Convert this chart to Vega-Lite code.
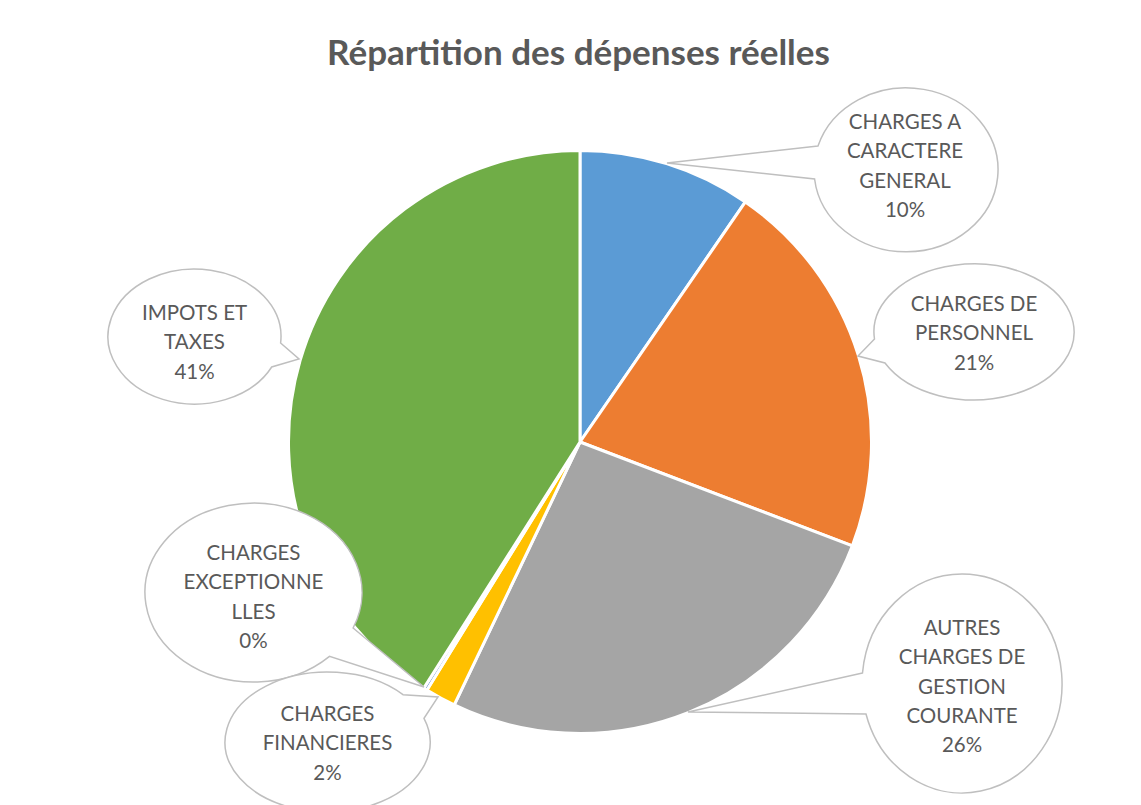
{
  "$schema": "https://vega.github.io/schema/vega-lite/v6.json",
  "width": 1141,
  "height": 705,
  "autosize": {"type": "none"},
  "padding": {"top": 100, "left": 0, "right": 0, "bottom": 0},
  "background": "white",
  "title": {
    "text": "Répartition des dépenses réelles",
    "font": "Lato",
    "fontSize": 35,
    "fontWeight": "bold",
    "color": "#595959",
    "anchor": "middle",
    "baseline": "alphabetic",
    "offset": 40,
    "dx": 8,
    "dy": 55
  },
  "config": {
    "view": {"stroke": null},
    "axis": {"disable": true}
  },
  "data": {
    "values": [
      {"categorie": "CHARGES A CARACTERE GENERAL", "valeur": 9.6},
      {"categorie": "CHARGES DE PERSONNEL", "valeur": 21.2},
      {"categorie": "AUTRES CHARGES DE GESTION COURANTE", "valeur": 26.3},
      {"categorie": "CHARGES FINANCIERES", "valeur": 1.7},
      {"categorie": "CHARGES EXCEPTIONNELLES", "valeur": 0.2},
      {"categorie": "IMPOTS ET TAXES", "valeur": 41.0}
    ]
  },
  "layer": [
    {
      "transform": [{"window": [{"op": "row_number", "as": "rang"}]}],
      "mark": {"type": "arc", "outerRadius": 291.5, "stroke": "white", "strokeWidth": 3},
      "encoding": {
        "x": {"datum": 0, "type": "quantitative", "scale": {"domain": [-2, 1.934483], "nice": false, "zero": false}},
        "y": {"datum": 0, "type": "quantitative", "scale": {"domain": [-1.251724, 1.17931], "nice": false, "zero": false}},
        "theta": {"field": "valeur", "type": "quantitative", "stack": true},
        "order": {"field": "rang", "type": "quantitative"},
        "color": {
          "field": "categorie",
          "type": "nominal",
          "scale": {
            "domain": ["CHARGES A CARACTERE GENERAL", "CHARGES DE PERSONNEL", "AUTRES CHARGES DE GESTION COURANTE", "CHARGES FINANCIERES", "CHARGES EXCEPTIONNELLES", "IMPOTS ET TAXES"],
            "range": ["#5B9BD5", "#ED7D31", "#A5A5A5", "#FFC000", "#4472C4", "#70AD47"]
          },
          "legend": null
        }
      }
    },
    {
      "transform": [{"filter": "datum.categorie === 'CHARGES A CARACTERE GENERAL'"}],
      "layer": [
        {
          "mark": {"type": "point", "shape": "M-88,-24L-239,-7L-91.4,9A92,82,0,1,0,-88,-24Z", "size": 4, "filled": true, "fill": "white", "stroke": "#BFBFBF", "strokeWidth": 1.5, "opacity": 1},
          "encoding": {"x": {"datum": 1.1241}, "y": {"datum": 0.9379}}
        },
        {
          "transform": [{"calculate": "['CHARGES A', 'CARACTERE', 'GENERAL', format(datum.valeur / 100, '.0%')]", "as": "lignes"}],
          "mark": {"type": "text", "font": "Lato", "fontSize": 20.5, "color": "#595959", "lineHeight": 29.3, "align": "center", "baseline": "middle"},
          "encoding": {"x": {"datum": 1.1207}, "y": {"datum": 1.1}, "text": {"field": "lignes"}}
        }
      ]
    },
    {
      "transform": [{"filter": "datum.categorie === 'CHARGES DE PERSONNEL'"}],
      "layer": [
        {
          "mark": {"type": "point", "shape": "M-99.5,7L-116,24L-89,31A100,68,0,1,0,-99.5,7Z", "size": 4, "filled": true, "fill": "white", "stroke": "#BFBFBF", "strokeWidth": 1.5, "opacity": 1},
          "encoding": {"x": {"datum": 1.3586}, "y": {"datum": 0.3793}}
        },
        {
          "transform": [{"calculate": "['CHARGES DE', 'PERSONNEL', format(datum.valeur / 100, '.0%')]", "as": "lignes"}],
          "mark": {"type": "text", "font": "Lato", "fontSize": 20.5, "color": "#595959", "lineHeight": 29.3, "align": "center", "baseline": "middle"},
          "encoding": {"x": {"datum": 1.3586}, "y": {"datum": 0.4724}, "text": {"field": "lignes"}}
        }
      ]
    },
    {
      "transform": [{"filter": "datum.categorie === 'AUTRES CHARGES DE GESTION COURANTE'"}],
      "layer": [
        {
          "mark": {"type": "point", "shape": "M-99.5,-10.5L-274,28.5L-96,30.5A100,109.5,0,1,0,-99.5,-10.5Z", "size": 4, "filled": true, "fill": "white", "stroke": "#BFBFBF", "strokeWidth": 1.5, "opacity": 1},
          "encoding": {"x": {"datum": 1.3172}, "y": {"datum": -0.8328}}
        },
        {
          "transform": [{"calculate": "['AUTRES', 'CHARGES DE', 'GESTION', 'COURANTE', format(datum.valeur / 100, '.0%')]", "as": "lignes"}],
          "mark": {"type": "text", "font": "Lato", "fontSize": 20.5, "color": "#595959", "lineHeight": 29.3, "align": "center", "baseline": "middle"},
          "encoding": {"x": {"datum": 1.3172}, "y": {"datum": -0.6448}, "text": {"field": "lignes"}}
        }
      ]
    },
    {
      "transform": [{"filter": "datum.categorie === 'CHARGES EXCEPTIONNELLES'"}],
      "layer": [
        {
          "mark": {"type": "point", "shape": "M99.6,35.5L170.5,94.5L76,63.9A108.5,89.5,0,1,1,99.6,35.5Z", "size": 4, "filled": true, "fill": "white", "stroke": "#BFBFBF", "strokeWidth": 1.5, "opacity": 1},
          "encoding": {"x": {"datum": -1.1259}, "y": {"datum": -0.519}}
        },
        {
          "transform": [{"calculate": "['CHARGES', 'EXCEPTIONNE', 'LLES', format(datum.valeur / 100, '.0%')]", "as": "lignes"}],
          "mark": {"type": "text", "font": "Lato", "fontSize": 20.5, "color": "#595959", "lineHeight": 29.3, "align": "center", "baseline": "middle"},
          "encoding": {"x": {"datum": -1.1259}, "y": {"datum": -0.3862}, "text": {"field": "lignes"}}
        }
      ]
    },
    {
      "transform": [{"filter": "datum.categorie === 'CHARGES FINANCIERES'"}],
      "layer": [
        {
          "mark": {"type": "point", "shape": "M75.5,-47.3L110.5,-45L96.5,-23.6A102.5,70,0,1,1,75.5,-47.3Z", "size": 4, "filled": true, "fill": "white", "stroke": "#BFBFBF", "strokeWidth": 1.5, "opacity": 1},
          "encoding": {"x": {"datum": -0.8707}, "y": {"datum": -1.0345}}
        },
        {
          "transform": [{"calculate": "['CHARGES', 'FINANCIERES', format(datum.valeur / 100, '.0%')]", "as": "lignes"}],
          "mark": {"type": "text", "font": "Lato", "fontSize": 20.5, "color": "#595959", "lineHeight": 29.3, "align": "center", "baseline": "middle"},
          "encoding": {"x": {"datum": -0.8707}, "y": {"datum": -0.9414}, "text": {"field": "lignes"}}
        }
      ]
    },
    {
      "transform": [{"filter": "datum.categorie === 'IMPOTS ET TAXES'"}],
      "layer": [
        {
          "mark": {"type": "point", "shape": "M86.1,6.5L104.5,22.5L77.2,30.5A86.5,67.5,0,1,1,86.1,6.5Z", "size": 4, "filled": true, "fill": "white", "stroke": "#BFBFBF", "strokeWidth": 1.5, "opacity": 1},
          "encoding": {"x": {"datum": -1.3293}, "y": {"datum": 0.3638}}
        },
        {
          "transform": [{"calculate": "['IMPOTS ET', 'TAXES', format(datum.valeur / 100, '.0%')]", "as": "lignes"}],
          "mark": {"type": "text", "font": "Lato", "fontSize": 20.5, "color": "#595959", "lineHeight": 29.3, "align": "center", "baseline": "middle"},
          "encoding": {"x": {"datum": -1.3293}, "y": {"datum": 0.4414}, "text": {"field": "lignes"}}
        }
      ]
    }
  ]
}
